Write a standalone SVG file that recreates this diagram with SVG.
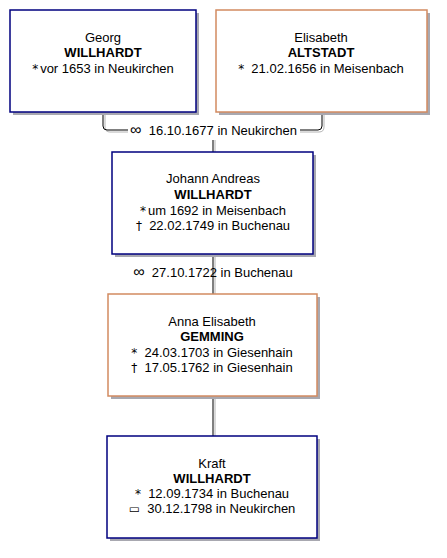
<svg xmlns="http://www.w3.org/2000/svg" width="447" height="558" viewBox="0 0 447 558">
<style>
text{font-family:"Liberation Sans",Arial,sans-serif;font-size:13px;fill:#000;text-anchor:middle;white-space:pre}
.b{font-weight:bold}
.sym{font-family:"DejaVu Sans",sans-serif;font-size:12px}
.mar{font-family:"Liberation Sans",sans-serif;font-size:16px}
.shadow{fill:#a8a8b0}
.m{fill:#fff;stroke:#00007f;stroke-width:1.5}
.f{fill:#fff;stroke:#d28a60;stroke-width:1.5}
.ln{fill:none;stroke:#000;stroke-width:1}
.ls{fill:none;stroke:#b4b4b4;stroke-width:1}
</style>
<rect width="447" height="558" fill="#fff"/>
<g id="connectors">
<path class="ls" d="M105,112 V127 Q105,132 110,132 H128"/>
<path class="ln" d="M103,112 V126 Q103,130 107,130 H128"/>
<path class="ls" d="M300,132 H319 Q324,132 324,127 V112"/>
<path class="ln" d="M300,130 H318 Q322,130 322,126 V112"/>
<path class="ls" d="M215,140 V152"/>
<path class="ln" d="M213,140 V152"/>
<path class="ls" d="M215,254 V294"/>
<path class="ln" d="M213,254 V294"/>
<path class="ls" d="M215,396 V436"/>
<path class="ln" d="M213,396 V436"/>
<text x="213.5" y="135"><tspan class="mar">∞</tspan>  16.10.1677 in Neukirchen</text>
<text x="213" y="277"><tspan class="mar">∞</tspan>  27.10.1722 in Buchenau</text>
</g>
<g id="georg">
<rect class="shadow" x="13" y="13" width="186" height="102"/>
<rect class="m" x="10" y="10" width="186" height="102"/>
<text x="103" y="42">Georg</text>
<text class="b" x="103" y="57">WILLHARDT</text>
<text x="103" y="73"><tspan class="sym">*</tspan><tspan dx="2">vor 1653 in Neukirchen</tspan></text>
</g>
<g id="elisabeth">
<rect class="shadow" x="219" y="13" width="211" height="102"/>
<rect class="f" x="216" y="10" width="211" height="102"/>
<text x="321" y="42">Elisabeth</text>
<text class="b" x="321" y="57">ALTSTADT</text>
<text x="321" y="73"><tspan class="sym">*</tspan>  21.02.1656 in Meisenbach</text>
</g>
<g id="johann">
<rect class="shadow" x="115" y="155" width="201" height="102"/>
<rect class="m" x="112" y="152" width="201" height="102"/>
<text x="213" y="183">Johann Andreas</text>
<text class="b" x="213" y="199">WILLHARDT</text>
<text x="213" y="215"><tspan class="sym">*</tspan><tspan dx="2">um 1692 in Meisenbach</tspan></text>
<text x="213" y="230"><tspan class="sym">†</tspan>  22.02.1749 in Buchenau</text>
</g>
<g id="anna">
<rect class="shadow" x="111" y="297" width="209" height="102"/>
<rect class="f" x="108" y="294" width="209" height="102"/>
<text x="212" y="326">Anna Elisabeth</text>
<text class="b" x="212" y="341">GEMMING</text>
<text x="212" y="357"><tspan class="sym">*</tspan>  24.03.1703 in Giesenhain</text>
<text x="212" y="372"><tspan class="sym">†</tspan>  17.05.1762 in Giesenhain</text>
</g>
<g id="kraft">
<rect class="shadow" x="110" y="439" width="210" height="102"/>
<rect class="m" x="107" y="436" width="210" height="102"/>
<text x="212" y="468">Kraft</text>
<text class="b" x="212" y="483">WILLHARDT</text>
<text x="212" y="498"><tspan class="sym">*</tspan>  12.09.1734 in Buchenau</text>
<text x="212" y="513"><tspan class="sym">▭</tspan>  30.12.1798 in Neukirchen</text>
</g>
</svg>
